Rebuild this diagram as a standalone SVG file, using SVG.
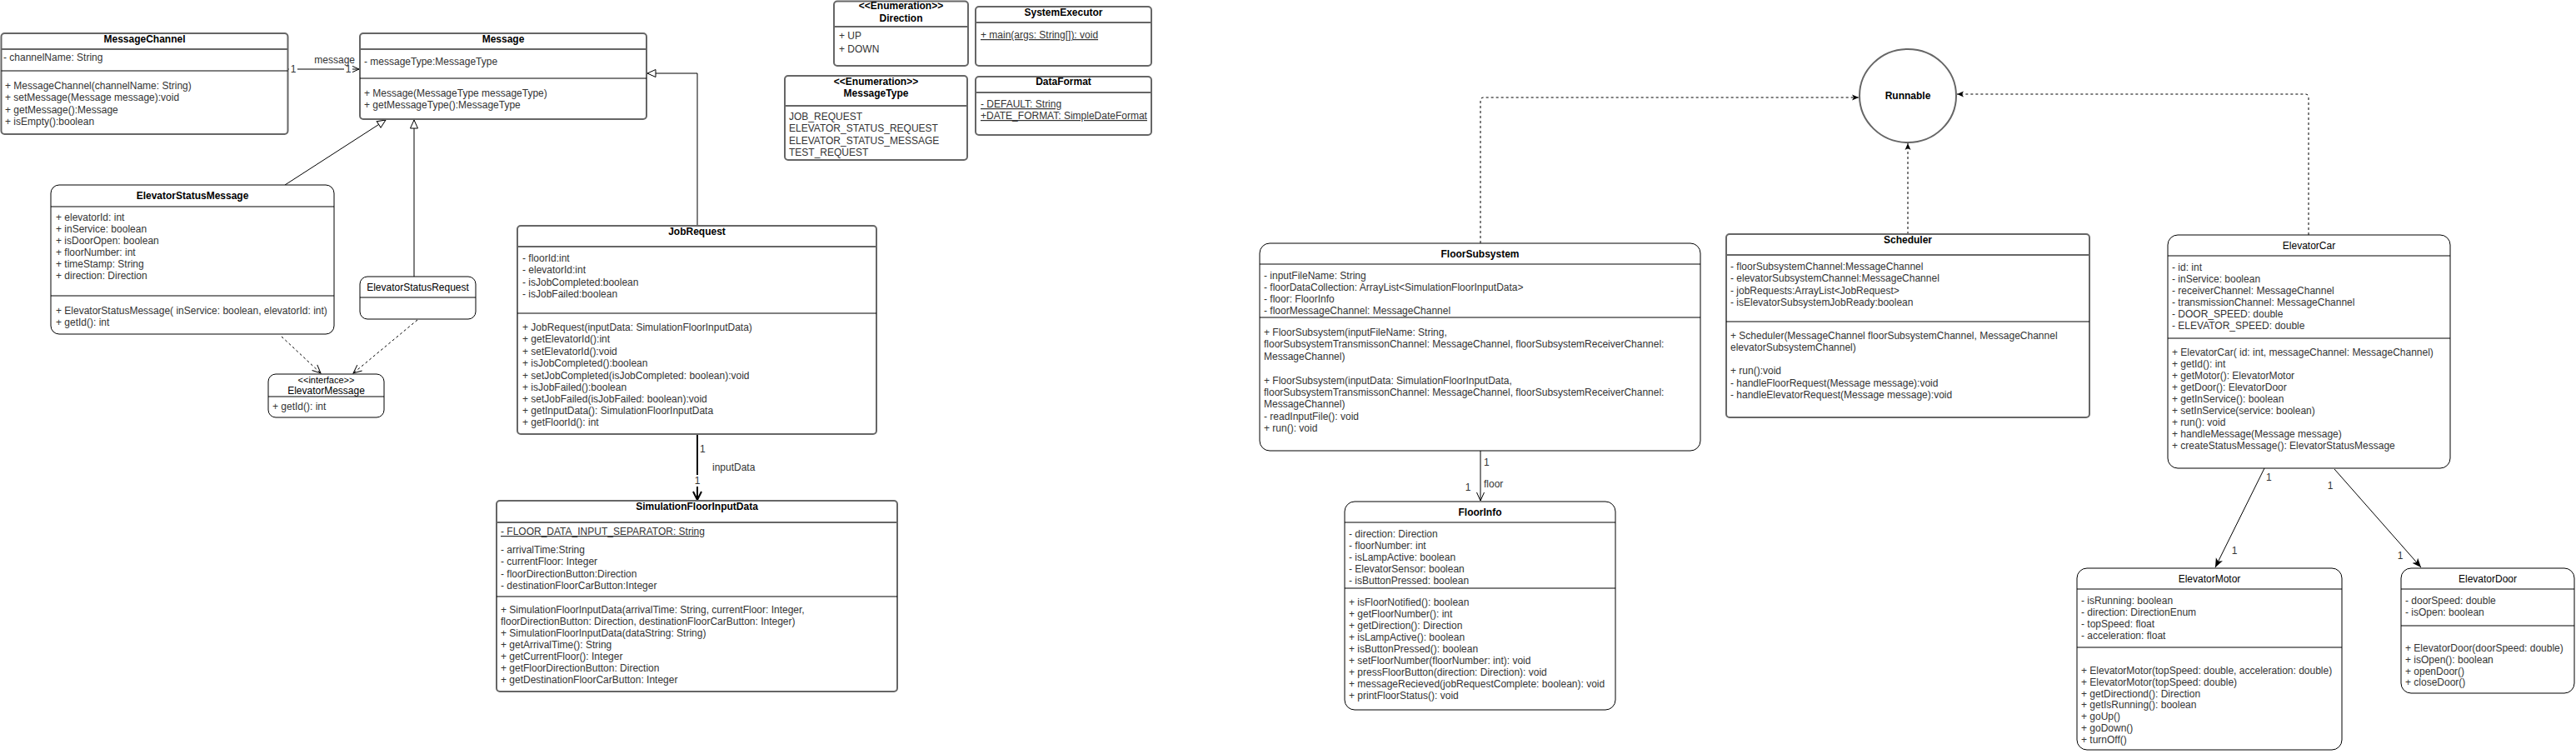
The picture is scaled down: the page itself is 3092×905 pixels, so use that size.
<svg xmlns="http://www.w3.org/2000/svg" width="3092" height="905" viewBox="0 0 3092 905">
<style>
.g{fill:#fff;stroke:#666;stroke-width:2}
.b{fill:#fff;stroke:#000;stroke-width:1}
.hg{stroke:#666;stroke-width:2}
.hb{stroke:#000;stroke-width:1}
text{font-family:"Liberation Sans",Arial,Helvetica,sans-serif;font-size:12px;fill:#333}
.t{font-weight:bold;fill:#000;text-anchor:middle}
.tn{fill:#000;text-anchor:middle}
.u{text-decoration:underline}
.c{stroke:#000;stroke-width:1;fill:none}
.dash{stroke-dasharray:3 3}
.lbl{fill:#333}
</style>
<defs>
<marker id="tri" markerWidth="12" markerHeight="12" refX="11" refY="6" orient="auto" markerUnits="userSpaceOnUse"><path d="M1,1.5 L11,6 L1,10.5 Z" fill="#fff" stroke="#000"/></marker>
<marker id="open" markerWidth="12" markerHeight="12" refX="11" refY="6" orient="auto" markerUnits="userSpaceOnUse"><path d="M1,1.5 L11,6 L1,10.5" fill="none" stroke="#000"/></marker>
<marker id="open2" markerWidth="14" markerHeight="14" refX="12" refY="7" orient="auto" markerUnits="userSpaceOnUse"><path d="M2,2 L12,7 L2,12" fill="none" stroke="#000" stroke-width="2"/></marker>
<marker id="blk" markerWidth="12" markerHeight="10" refX="11" refY="5" orient="auto" markerUnits="userSpaceOnUse"><path d="M0,0.5 L11,5 L0,9.5 L3,5 Z" fill="#000"/></marker>
<marker id="sm" markerWidth="9" markerHeight="8" refX="8" refY="4" orient="auto" markerUnits="userSpaceOnUse"><path d="M0,0.5 L8,4 L0,7.5 L2,4 Z" fill="#000"/></marker>
</defs>

<g id="connectors">
<path class="c" d="M346,83 H431" marker-end="url(#open)"/>
<path class="c" d="M342,222 L463,144" marker-end="url(#tri)"/>
<path class="c" d="M497,332 V144" marker-end="url(#tri)"/>
<path class="c" d="M837,271 V88 H777" marker-end="url(#tri)"/>
<path class="c dash" d="M338,404 L385,448" marker-end="url(#open)"/>
<path class="c dash" d="M501,384 L424,448" marker-end="url(#open)"/>
<path class="c" style="stroke-width:2" d="M837,521 V600" marker-end="url(#open2)"/>
<path class="c" d="M1777,541 V601" marker-end="url(#open)"/>
<path class="c dash" d="M1777,292 V121 Q1777,117 1781,117 H2231" marker-end="url(#sm)"/>
<path class="c dash" d="M2290,281 V172" marker-end="url(#sm)"/>
<path class="c dash" d="M2771,282 V117 Q2771,113 2767,113 H2349" marker-end="url(#sm)"/>
<path class="c" d="M2718,562 L2659,681" marker-end="url(#blk)"/>
<path class="c" d="M2802,563 L2906,681" marker-end="url(#blk)"/>
<rect x="347" y="76" width="10" height="14" fill="#fff"/>
<rect x="413" y="76" width="10" height="14" fill="#fff"/>
<text x="352" y="87" text-anchor="middle" class="lbl">1</text>
<text x="418" y="87" text-anchor="middle" class="lbl">1</text>
<text x="426" y="76" text-anchor="end" class="lbl">message</text>
<text x="840" y="543" class="lbl">1</text>
<text x="855" y="565" class="lbl">inputData</text>
<rect x="832" y="570" width="10" height="14" fill="#fff"/>
<text x="837" y="581" text-anchor="middle" class="lbl">1</text>
<text x="1781" y="559" class="lbl">1</text>
<text x="1781" y="585" class="lbl">floor</text>
<text x="1762" y="589" text-anchor="middle" class="lbl">1</text>
<text x="2720" y="577" class="lbl">1</text>
<text x="2682" y="665" text-anchor="middle" class="lbl">1</text>
<text x="2797" y="587" text-anchor="middle" class="lbl">1</text>
<text x="2881" y="671" text-anchor="middle" class="lbl">1</text>
</g>

<g id="MessageChannel">
<rect class="g" x="1.5" y="40" width="344" height="121" rx="4"/>
<line class="hg" x1="1.5" y1="59" x2="345.5" y2="59"/>
<line class="hb" x1="1.5" y1="85" x2="345.5" y2="85"/>
<text class="t" x="173.5" y="51">MessageChannel</text>
<text x="4" y="73">- channelName: String</text>
<text x="6" y="107">+ MessageChannel(channelName: String)</text>
<text x="6" y="121">+ setMessage(Message message):void</text>
<text x="6" y="136">+ getMessage():Message</text>
<text x="6" y="150">+ isEmpty():boolean</text>
</g>

<g id="Message">
<rect class="g" x="432" y="40" width="344" height="103" rx="4"/>
<line class="hg" x1="432" y1="59" x2="776" y2="59"/>
<line class="hb" x1="432" y1="94" x2="776" y2="94"/>
<text class="t" x="604" y="51">Message</text>
<text x="437" y="78">- messageType:MessageType</text>
<text x="437" y="116">+ Message(MessageType messageType)</text>
<text x="437" y="130">+ getMessageType():MessageType</text>
</g>

<g id="Direction">
<rect class="g" x="1001" y="1.5" width="161" height="77.5" rx="4"/>
<line class="hg" x1="1001" y1="32" x2="1162" y2="32"/>
<text class="t" x="1081.5" y="11">&lt;&lt;Enumeration&gt;&gt;</text>
<text class="t" x="1081.5" y="26">Direction</text>
<text x="1007" y="47">+ UP</text>
<text x="1007" y="63">+ DOWN</text>
</g>

<g id="SystemExecutor">
<rect class="g" x="1171" y="8" width="211" height="71" rx="4"/>
<line class="hg" x1="1171" y1="27" x2="1382" y2="27"/>
<text class="t" x="1276.5" y="19">SystemExecutor</text>
<text class="u" x="1177" y="46">+ main(args: String[]): void</text>
</g>

<g id="MessageType">
<rect class="g" x="942" y="91" width="219" height="101" rx="4"/>
<line class="hg" x1="942" y1="127" x2="1161" y2="127"/>
<text class="t" x="1051.5" y="102">&lt;&lt;Enumeration&gt;&gt;</text>
<text class="t" x="1051.5" y="116">MessageType</text>
<text x="947" y="144">JOB_REQUEST</text>
<text x="947" y="158">ELEVATOR_STATUS_REQUEST</text>
<text x="947" y="173">ELEVATOR_STATUS_MESSAGE</text>
<text x="947" y="187">TEST_REQUEST</text>
</g>

<g id="DataFormat">
<rect class="g" x="1171" y="92" width="211" height="70" rx="4"/>
<line class="hg" x1="1171" y1="111" x2="1382" y2="111"/>
<text class="t" x="1276.5" y="102">DataFormat</text>
<text class="u" x="1177" y="129">- DEFAULT: String</text>
<text class="u" x="1177" y="143">+DATE_FORMAT: SimpleDateFormat</text>
</g>

<g id="ElevatorStatusMessage">
<rect class="b" x="61" y="222" width="340" height="179" rx="10"/>
<line class="hb" x1="61" y1="248" x2="401" y2="248"/>
<line class="hb" x1="61" y1="355" x2="401" y2="355"/>
<text class="t" x="231" y="239">ElevatorStatusMessage</text>
<text x="67" y="265">+ elevatorId: int</text>
<text x="67" y="279">+ inService: boolean</text>
<text x="67" y="293">+ isDoorOpen: boolean</text>
<text x="67" y="307">+ floorNumber: int</text>
<text x="67" y="321">+ timeStamp: String</text>
<text x="67" y="335">+ direction: Direction</text>
<text x="67" y="377">+ ElevatorStatusMessage( inService: boolean, elevatorId: int)</text>
<text x="67" y="391">+ getId(): int</text>
</g>

<g id="ElevatorStatusRequest">
<rect class="b" x="432" y="332" width="139" height="51" rx="9"/>
<line class="hb" x1="432" y1="357" x2="571" y2="357"/>
<text class="tn" x="501.5" y="349">ElevatorStatusRequest</text>
</g>

<g id="ElevatorMessage">
<rect class="b" x="322" y="449" width="139" height="52" rx="9"/>
<line class="hb" x1="322" y1="476" x2="461" y2="476"/>
<text class="tn" x="391.5" y="460" style="font-size:11px">&lt;&lt;interface&gt;&gt;</text>
<text class="tn" x="391.5" y="473">ElevatorMessage</text>
<text x="327" y="492">+ getId(): int</text>
</g>

<g id="JobRequest">
<rect class="g" x="621" y="271" width="431" height="250" rx="4"/>
<line class="hg" x1="621" y1="296" x2="1052" y2="296"/>
<line class="hb" x1="621" y1="376" x2="1052" y2="376"/>
<text class="t" x="836.5" y="282">JobRequest</text>
<text x="627" y="314">- floorId:int</text>
<text x="627" y="328">- elevatorId:int</text>
<text x="627" y="343">- isJobCompleted:boolean</text>
<text x="627" y="357">- isJobFailed:boolean</text>
<text x="627" y="397">+ JobRequest(inputData: SimulationFloorInputData)</text>
<text x="627" y="411">+ getElevatorId():int</text>
<text x="627" y="426">+ setElevatorId():void</text>
<text x="627" y="440">+ isJobCompleted():boolean</text>
<text x="627" y="455">+ setJobCompleted(isJobCompleted: boolean):void</text>
<text x="627" y="469">+ isJobFailed():boolean</text>
<text x="627" y="483">+ setJobFailed(isJobFailed: boolean):void</text>
<text x="627" y="497">+ getInputData(): SimulationFloorInputData</text>
<text x="627" y="511">+ getFloorId(): int</text>
</g>

<g id="SimulationFloorInputData">
<rect class="g" x="596" y="601" width="481" height="229" rx="4"/>
<line class="hg" x1="596" y1="627" x2="1077" y2="627"/>
<line class="hb" x1="596" y1="716" x2="1077" y2="716"/>
<text class="t" x="836.5" y="612">SimulationFloorInputData</text>
<text class="u" x="601" y="642">- FLOOR_DATA_INPUT_SEPARATOR: String</text>
<text x="601" y="664">- arrivalTime:String</text>
<text x="601" y="678">- currentFloor: Integer</text>
<text x="601" y="693">- floorDirectionButton:Direction</text>
<text x="601" y="707">- destinationFloorCarButton:Integer</text>
<text x="601" y="736">+ SimulationFloorInputData(arrivalTime: String, currentFloor: Integer,</text>
<text x="601" y="750">floorDirectionButton: Direction, destinationFloorCarButton: Integer)</text>
<text x="601" y="764">+ SimulationFloorInputData(dataString: String)</text>
<text x="601" y="778">+ getArrivalTime(): String</text>
<text x="601" y="792">+ getCurrentFloor(): Integer</text>
<text x="601" y="806">+ getFloorDirectionButton: Direction</text>
<text x="601" y="820">+ getDestinationFloorCarButton: Integer</text>
</g>

<g id="Runnable">
<ellipse cx="2290" cy="115" rx="58" ry="56" fill="#fff" stroke="#666" stroke-width="2"/>
<text class="t" x="2290" y="119">Runnable</text>
</g>

<g id="FloorSubsystem">
<rect class="b" x="1512" y="292" width="529" height="249" rx="12"/>
<line class="hb" x1="1512" y1="317" x2="2041" y2="317"/>
<line class="hb" x1="1512" y1="381" x2="2041" y2="381"/>
<text class="t" x="1776.5" y="309">FloorSubsystem</text>
<text x="1517" y="335">- inputFileName: String</text>
<text x="1517" y="349">- floorDataCollection: ArrayList&lt;SimulationFloorInputData&gt;</text>
<text x="1517" y="363">- floor: FloorInfo</text>
<text x="1517" y="377">- floorMessageChannel: MessageChannel</text>
<text x="1517" y="403">+ FloorSubsystem(inputFileName: String,</text>
<text x="1517" y="417">floorSubsystemTransmissonChannel: MessageChannel, floorSubsystemReceiverChannel:</text>
<text x="1517" y="432">MessageChannel)</text>
<text x="1517" y="461">+ FloorSubsystem(inputData: SimulationFloorInputData,</text>
<text x="1517" y="475">floorSubsystemTransmissonChannel: MessageChannel, floorSubsystemReceiverChannel:</text>
<text x="1517" y="489">MessageChannel)</text>
<text x="1517" y="504">- readInputFile(): void</text>
<text x="1517" y="518">+ run(): void</text>
</g>

<g id="FloorInfo">
<rect class="b" x="1614" y="602" width="325" height="250" rx="12"/>
<line class="hb" x1="1614" y1="627" x2="1939" y2="627"/>
<line class="hb" x1="1614" y1="706" x2="1939" y2="706"/>
<text class="t" x="1776.5" y="619">FloorInfo</text>
<text x="1619" y="645">- direction: Direction</text>
<text x="1619" y="659">- floorNumber: int</text>
<text x="1619" y="673">- isLampActive: boolean</text>
<text x="1619" y="687">- ElevatorSensor: boolean</text>
<text x="1619" y="701">- isButtonPressed: boolean</text>
<text x="1619" y="727">+ isFloorNotified(): boolean</text>
<text x="1619" y="741">+ getFloorNumber(): int</text>
<text x="1619" y="755">+ getDirection(): Direction</text>
<text x="1619" y="769">+ isLampActive(): boolean</text>
<text x="1619" y="783">+ isButtonPressed(): boolean</text>
<text x="1619" y="797">+ setFloorNumber(floorNumber: int): void</text>
<text x="1619" y="811">+ pressFloorButton(direction: Direction): void</text>
<text x="1619" y="825">+ messageRecieved(jobRequestComplete: boolean): void</text>
<text x="1619" y="839">+ printFloorStatus(): void</text>
</g>

<g id="Scheduler">
<rect class="g" x="2072" y="281" width="436" height="220" rx="4"/>
<line class="hg" x1="2072" y1="306" x2="2508" y2="306"/>
<line class="hb" x1="2072" y1="386" x2="2508" y2="386"/>
<text class="t" x="2290" y="292">Scheduler</text>
<text x="2077" y="324">- floorSubsystemChannel:MessageChannel</text>
<text x="2077" y="338">- elevatorSubsystemChannel:MessageChannel</text>
<text x="2077" y="353">- jobRequests:ArrayList&lt;JobRequest&gt;</text>
<text x="2077" y="367">- isElevatorSubsystemJobReady:boolean</text>
<text x="2077" y="407">+ Scheduler(MessageChannel floorSubsystemChannel, MessageChannel</text>
<text x="2077" y="421">elevatorSubsystemChannel)</text>
<text x="2077" y="449">+ run():void</text>
<text x="2077" y="464">- handleFloorRequest(Message message):void</text>
<text x="2077" y="478">- handleElevatorRequest(Message message):void</text>
</g>

<g id="ElevatorCar">
<rect class="b" x="2602" y="282" width="339" height="280" rx="12"/>
<line class="hb" x1="2602" y1="307" x2="2941" y2="307"/>
<line class="hb" x1="2602" y1="406" x2="2941" y2="406"/>
<text class="tn" x="2771.5" y="299">ElevatorCar</text>
<text x="2607" y="325">- id: int</text>
<text x="2607" y="339">- inService: boolean</text>
<text x="2607" y="353">- receiverChannel: MessageChannel</text>
<text x="2607" y="367">- transmissionChannel: MessageChannel</text>
<text x="2607" y="381">- DOOR_SPEED: double</text>
<text x="2607" y="395">- ELEVATOR_SPEED: double</text>
<text x="2607" y="427">+ ElevatorCar( id: int, messageChannel: MessageChannel)</text>
<text x="2607" y="441">+ getId(): int</text>
<text x="2607" y="455">+ getMotor(): ElevatorMotor</text>
<text x="2607" y="469">+ getDoor(): ElevatorDoor</text>
<text x="2607" y="483">+ getInService(): boolean</text>
<text x="2607" y="497">+ setInService(service: boolean)</text>
<text x="2607" y="511">+ run(): void</text>
<text x="2607" y="525">+ handleMessage(Message message)</text>
<text x="2607" y="539">+ createStatusMessage(): ElevatorStatusMessage</text>
</g>

<g id="ElevatorMotor">
<rect class="b" x="2493" y="682" width="318" height="218" rx="12"/>
<line class="hb" x1="2493" y1="707" x2="2811" y2="707"/>
<line class="hb" x1="2493" y1="777" x2="2811" y2="777"/>
<text class="tn" x="2652" y="699">ElevatorMotor</text>
<text x="2498" y="725">- isRunning: boolean</text>
<text x="2498" y="739">- direction: DirectionEnum</text>
<text x="2498" y="753">- topSpeed: float</text>
<text x="2498" y="767">- acceleration: float</text>
<text x="2498" y="809">+ ElevatorMotor(topSpeed: double, acceleration: double)</text>
<text x="2498" y="823">+ ElevatorMotor(topSpeed: double)</text>
<text x="2498" y="837">+ getDirectiond(): Direction</text>
<text x="2498" y="850">+ getIsRunning(): boolean</text>
<text x="2498" y="864">+ goUp()</text>
<text x="2498" y="878">+ goDown()</text>
<text x="2498" y="892">+ turnOff()</text>
</g>

<g id="ElevatorDoor">
<rect class="b" x="2882" y="682" width="208" height="150" rx="12"/>
<line class="hb" x1="2882" y1="707" x2="3090" y2="707"/>
<line class="hb" x1="2882" y1="751" x2="3090" y2="751"/>
<text class="tn" x="2986" y="699">ElevatorDoor</text>
<text x="2887" y="725">- doorSpeed: double</text>
<text x="2887" y="739">- isOpen: boolean</text>
<text x="2887" y="782">+ ElevatorDoor(doorSpeed: double)</text>
<text x="2887" y="796">+ isOpen(): boolean</text>
<text x="2887" y="810">+ openDoor()</text>
<text x="2887" y="823">+ closeDoor()</text>
</g>
</svg>
